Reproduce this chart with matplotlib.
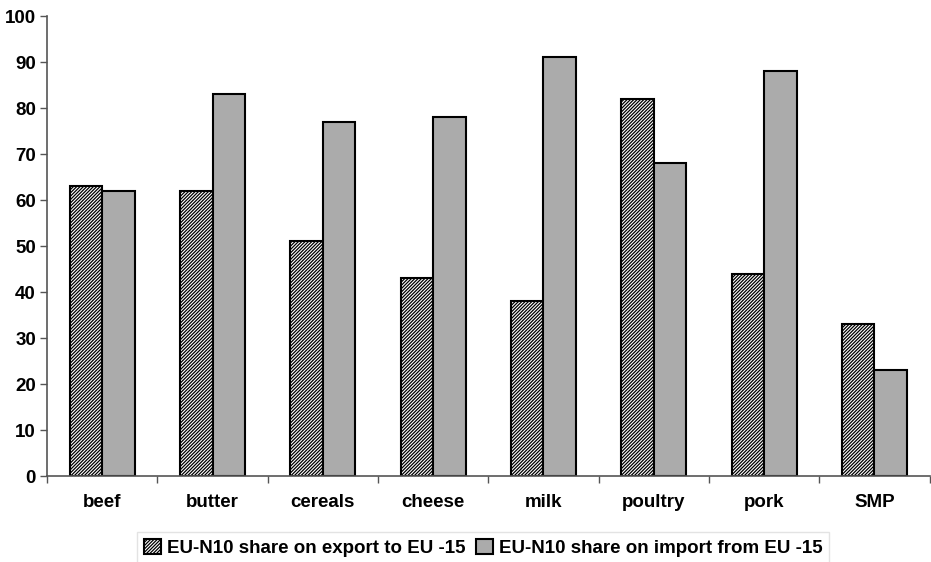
import numpy as np
import matplotlib
matplotlib.use('Agg')
import matplotlib.pyplot as plt

plt.rcParams['font.family'] = ['Liberation Sans', 'DejaVu Sans']
plt.rcParams['font.weight'] = 'bold'
plt.rcParams['hatch.linewidth'] = 0.9

products = ["beef", "butter", "cereals", "cheese", "milk", "poultry", "pork", "SMP"]
export_share = [63, 62, 51, 43, 38, 82, 44, 33]
import_share = [62, 83, 77, 78, 91, 68, 88, 23]

fig = plt.figure(figsize=(9.31, 5.62), dpi=100)
ax = fig.add_axes([0.0505, 0.153, 0.948, 0.8185])

x = np.arange(len(products))
w = 0.295
ax.bar(x - w / 2, export_share, w, color="white", edgecolor="black",
       hatch="//////////", linewidth=1.5, label="EU-N10 share on export to EU -15")
ax.bar(x + w / 2, import_share, w, color="#ababab", edgecolor="black",
       linewidth=1.5, label="EU-N10 share on import from EU -15")

ax.set_xlim(-0.5, len(products) - 0.5)
ax.set_ylim(0, 100)
ax.set_yticks(range(0, 101, 10))
ax.tick_params(axis="y", labelsize=13.5, length=5, width=1, color="#555555", pad=3)

# category labels in the middle, tick marks at the boundaries
ax.set_xticks(np.arange(len(products) + 1) - 0.5)
ax.set_xticklabels([])
ax.set_xticks(x, minor=True)
ax.set_xticklabels(products, minor=True, fontsize=13.5)
ax.tick_params(axis="x", which="major", length=5, width=1, color="#555555")
ax.tick_params(axis="x", which="minor", length=0, pad=13)

for s in ["top", "right"]:
    ax.spines[s].set_visible(False)
for s in ["left", "bottom"]:
    ax.spines[s].set_color("#555555")
    ax.spines[s].set_linewidth(1.2)

leg = fig.legend(loc="center", bbox_to_anchor=(0.519, 0.025), ncol=2,
                 fontsize=13.5, frameon=True, fancybox=False,
                 handlelength=0.9, handleheight=0.9, handletextpad=0.3,
                 columnspacing=0.6, borderpad=0.35)
leg.get_frame().set_edgecolor("#dddddd")
leg.get_frame().set_linewidth(1)

fig.savefig("out.png", dpi=100)
